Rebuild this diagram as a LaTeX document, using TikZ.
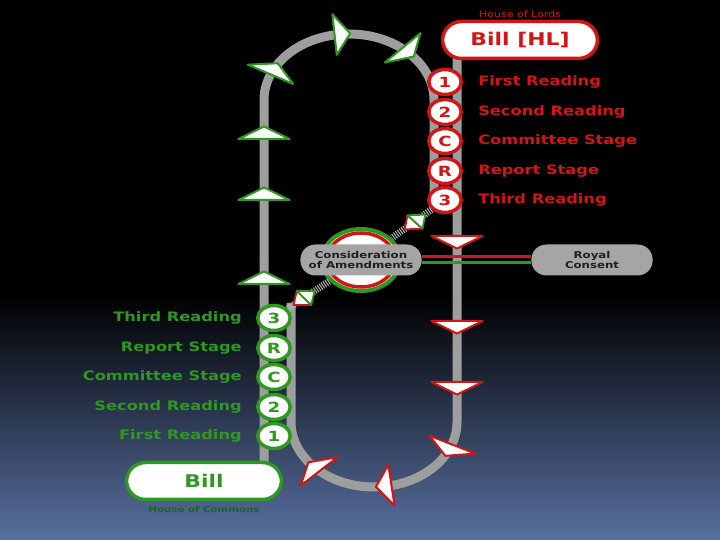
\documentclass[tikz,border=0pt]{standalone}
\usepackage{fontspec}
\setmainfont{DejaVu Sans}

\definecolor{lordsred}{RGB}{208,22,22}
\definecolor{commonsgreen}{RGB}{46,152,32}
\definecolor{darkgreen}{RGB}{30,100,34}
\definecolor{trackgrey}{RGB}{158,158,158}
\definecolor{pillgrey}{RGB}{165,165,165}
\definecolor{dusk}{RGB}{88,112,160}

\tikzset{
  track/.style={draw=trackgrey, line width=9pt},
  ladder/.style={draw=trackgrey!75!white, line width=7pt, dash pattern=on 1pt off 1.3pt},
  stop/.style={circle, fill=white, line width=3.5pt, inner sep=0pt, minimum size=25pt, xscale=1.3,
    font=\bfseries\fontsize{14}{14}\selectfont},
  lstop/.style={stop, draw=lordsred, text=lordsred},
  cstop/.style={stop, draw=commonsgreen, text=commonsgreen},
  stagename/.style={xscale=1.25, inner sep=0pt, font=\bfseries\fontsize{13}{13}\selectfont},
  lname/.style={stagename, anchor=west, text=lordsred},
  cname/.style={stagename, anchor=east, text=commonsgreen},
  bill/.style={fill=white, line width=3.5pt, rounded corners=19pt, minimum width=124pt,
    minimum height=37pt, xscale=1.25, font=\bfseries\fontsize{17.5}{17.5}\selectfont},
  house/.style={xscale=1.25, inner sep=0pt, font=\fontsize{8.8}{9}\selectfont},
  pill/.style={fill=pillgrey, rounded corners=15pt, minimum width=97pt, minimum height=31pt,
    inner sep=0pt, xscale=1.25, align=center, text=black!88,
    font=\bfseries\fontsize{9.4}{10.8}\selectfont},
  garrow/.style={draw=commonsgreen, fill=white, line width=2pt, line join=round},
  rarrow/.style={draw=lordsred, fill=white, line width=2pt, line join=round}
}

\begin{document}
\begin{tikzpicture}[x=1pt, y=1pt]
  \useasboundingbox (0,0) rectangle (720,540);
  \fill[black] (0,0) rectangle (720,540);
  \shade[top color=black, middle color=dusk!25!black, bottom color=dusk] (0,0) rectangle (720,245);

  % tracks
  \draw[track] (264,75) -- (264,440) arc[start angle=180, end angle=0, x radius=85, y radius=66] -- (434,333);
  \draw[track] (457,482) -- (457,118) arc[start angle=0, end angle=-180, x radius=83, y radius=65] -- (291,237);

  % consideration of amendments
  \node[circle, draw=commonsgreen, fill=white, line width=4pt, minimum size=62pt, xscale=1.26] (ring) at (361,280) {};
  \node[circle, draw=lordsred, line width=3.5pt, minimum size=54pt, xscale=1.26] (ringin) at (361,280) {};
  \node[pill] (amend) at (361,280) {Consideration\\of Amendments};
  \node[pill] (royal) at (592,280) {Royal\\Consent};
  \draw[lordsred, line width=3.5pt] ([yshift=3.5pt]amend.east) -- ([yshift=3.5pt]royal.west);
  \draw[commonsgreen, line width=3.5pt] ([yshift=-2.5pt]amend.east) -- ([yshift=-2.5pt]royal.west);

  % stages
  \foreach \s/\t/\y in {1/First Reading/458, 2/Second Reading/428, C/Committee Stage/399,
                        R/Report Stage/369, 3/Third Reading/340} {
    \node[lstop] (l\s) at (445,\y) {\s};
    \node[lname] (ln\s) at (478,\y) {\t};
  }
  \foreach \s/\t/\y in {3/Third Reading/222, R/Report Stage/192, C/Committee Stage/163,
                        2/Second Reading/133, 1/First Reading/104} {
    \node[cstop] (c\s) at (274,\y) {\s};
    \node[cname] (cn\s) at (242,\y) {\t};
  }

  \draw[ladder] (l3) -- (ring);
  \draw[ladder] (c3) -- (ring);

  % bills
  \node[bill, draw=lordsred, text=lordsred] (hl) at (520,500) {Bill [HL]};
  \node[house, text=lordsred] (lords) at (520,526) {House of Lords};
  \node[bill, draw=commonsgreen, text=commonsgreen] (hc) at (204,59) {Bill};
  \node[house, text=darkgreen, font=\bfseries\fontsize{8.2}{9}\selectfont] (commons) at (204,31) {House of Commons};

  % direction of travel
  \foreach \x/\y/\a in {264/407/90, 264/346/90, 264/262/90, 274/471/62, 342/506/5, 408/488/-44}
    \draw[garrow, shift={(\x,\y)}, xscale=1.25, rotate=\a] (6.5,0) -- (-6,20.5) -- (-6,-20.5) -- cycle;
  \foreach \x/\y/\a in {457/298/-90, 457/213/-90, 457/152/-90, 449/90/-116, 384/54/-173, 314/73/134}
    \draw[rarrow, shift={(\x,\y)}, xscale=1.25, rotate=\a] (6.5,0) -- (-6,20.5) -- (-6,-20.5) -- cycle;
  \foreach \x/\y/\a in {415/318/222, 304/242/220} {
    \draw[rarrow, line width=1.8pt, shift={(\x,\y)}, xscale=1.25, rotate=\a] (11,0) -- (0,9) -- (0,-9) -- cycle;
    \draw[garrow, line width=1.8pt, shift={(\x,\y)}, xscale=1.25, rotate=\a+180] (11,0) -- (0,9) -- (0,-9) -- cycle;
  }
\end{tikzpicture}
\end{document}
